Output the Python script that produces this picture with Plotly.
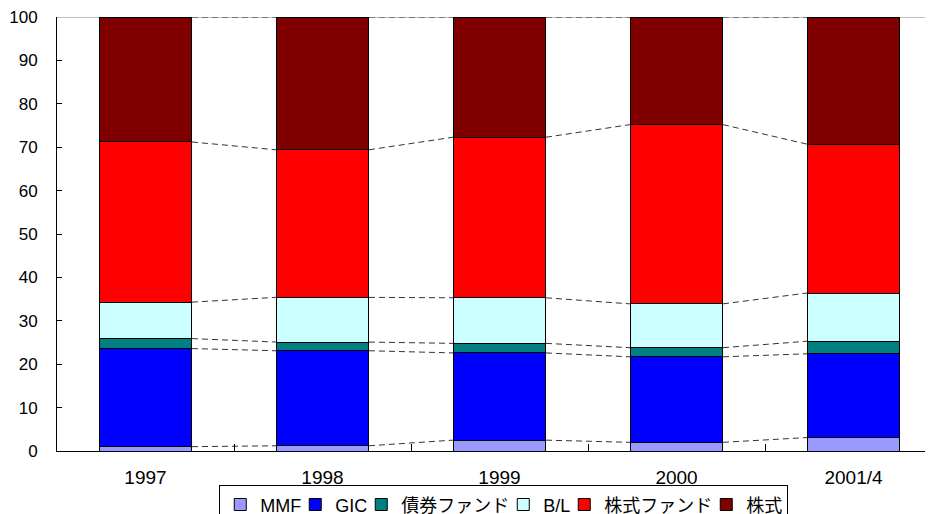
import plotly.graph_objects as go
import numpy as np

categories = ["1997", "1998", "1999", "2000", "2001/4"]
series_names = ["MMF", "GIC", "債券ファンド", "B/L", "株式ファンド", "株式"]
mmf = [1.0, 1.2, 2.5, 2.0, 3.1]
gic = [22.6, 21.9, 20.1, 19.7, 19.3]
bond_fund = [2.3, 2.0, 2.2, 2.1, 2.9]
bl = [8.4, 10.3, 10.5, 10.1, 11.1]
stock_fund = [36.9, 34.0, 37.0, 41.3, 34.3]
stock = [28.8, 30.6, 27.7, 24.8, 29.3]
y_ticks = [0, 10, 20, 30, 40, 50, 60, 70, 80, 90, 100]

series_values = [mmf, gic, bond_fund, bl, stock_fund, stock]
colors = ["#9999FF", "#0000FF", "#008080", "#CCFFFF", "#FF0000", "#800000"]
# legend entry widths (px) to tighten spacing between legend items
legend_widths = [30, 21, 97, 16, 97, None]

FONT = "Liberation Sans, Noto Sans CJK JP, sans-serif"
x = list(range(len(categories)))
bar_w = 0.525

fig = go.Figure()
for name, vals, col, lw in zip(series_names, series_values, colors, legend_widths):
    fig.add_trace(go.Bar(
        x=x, y=vals, name=name, width=bar_w,
        marker=dict(color=col, line=dict(color="black", width=1)),
        legendwidth=lw,
    ))

# series lines (dashed) connecting cumulative tops between bars
cum = np.cumsum(np.array(series_values), axis=0)
for level in cum:
    for i in range(len(categories) - 1):
        fig.add_trace(go.Scatter(
            x=[x[i] + bar_w / 2, x[i + 1] - bar_w / 2],
            y=[level[i], level[i + 1]],
            mode="lines", line=dict(color="#333333", width=1, dash="6px,4px"),
            showlegend=False, hoverinfo="skip",
        ))

fig.add_shape(type="line", xref="paper", yref="y", x0=0, x1=1, y0=100, y1=100,
              line=dict(color="#808080", width=1), layer="below")

fig.update_layout(
    width=933, height=530,
    margin=dict(l=49, r=8, t=9, b=87),
    barmode="stack",
    plot_bgcolor="white", paper_bgcolor="white",
    font=dict(family=FONT, color="black", size=16),
    xaxis=dict(
        range=[-0.5, 4.449], tickmode="array", tickvals=x, ticktext=categories,
        ticks="", showline=True, linecolor="black", linewidth=1,
        showgrid=False, zeroline=False, tickfont=dict(size=19),
        automargin=False, ticklabelstandoff=9,
        minor=dict(tickmode="array", tickvals=[0.5, 1.5, 2.5, 3.5],
                   ticks="inside", ticklen=7, tickcolor="black"),
    ),
    yaxis=dict(
        range=[0, 100], tickmode="array", tickvals=y_ticks,
        ticks="inside", ticklen=5, tickcolor="black", tickwidth=1,
        showline=True, linecolor="black", linewidth=1,
        showgrid=False, zeroline=False, tickfont=dict(size=17),
        automargin=False, ticklabeloverflow="allow", ticklabelstandoff=15,
    ),
    legend=dict(
        orientation="h", x=0.51, xanchor="center", y=-0.079, yanchor="top",
        bordercolor="black", borderwidth=1, font=dict(size=18),
        traceorder="normal", itemwidth=30,
    ),
    showlegend=True,
)

fig.write_html("out.html")
